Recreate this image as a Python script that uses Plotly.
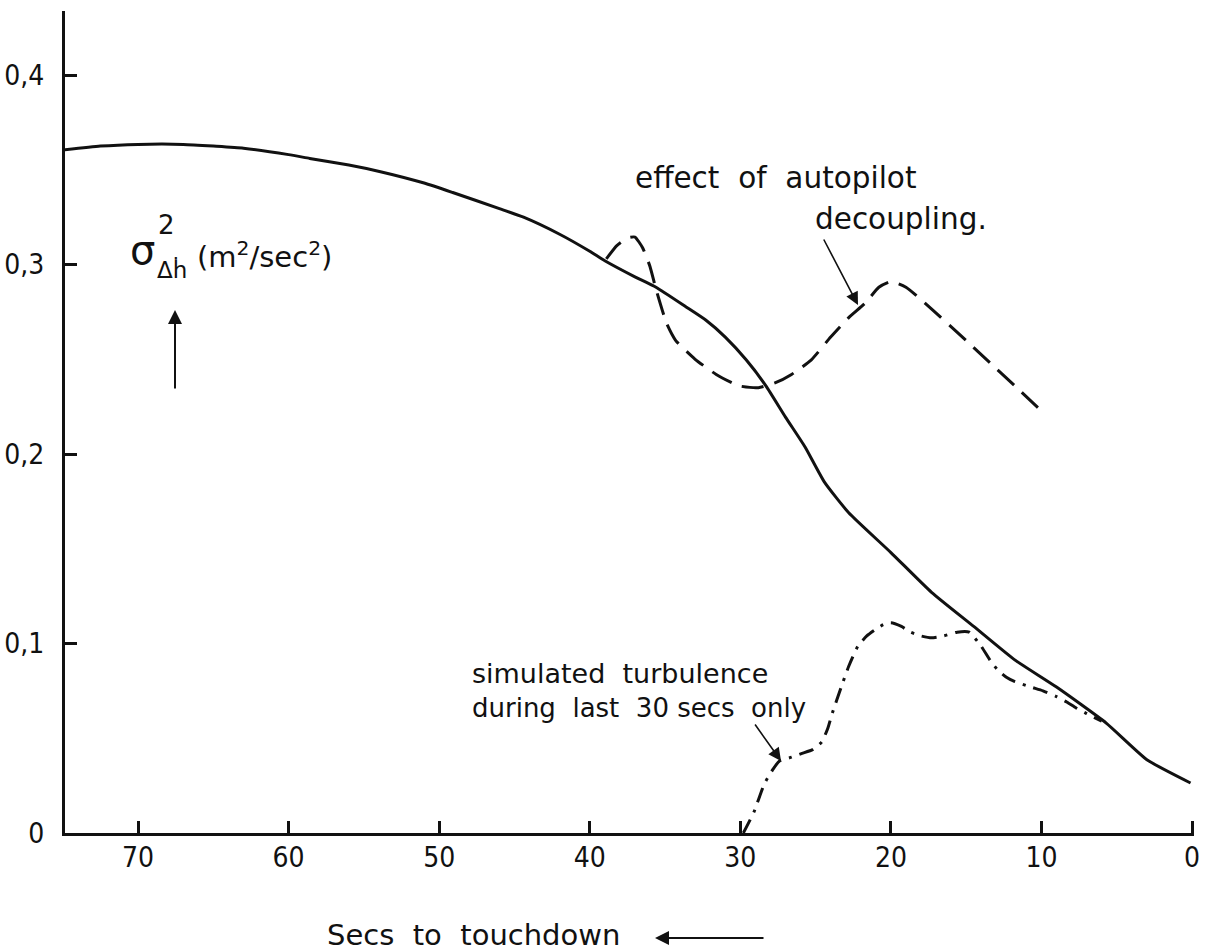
import plotly.graph_objects as go

# Secs to touchdown (x) and vertical-rate variance (y) for the three curves
base_secs = [75, 72.5, 70, 67, 65, 63, 60, 58.6, 56, 53.9, 51, 49.1, 46, 44.4, 42, 40,
             39, 37, 35.6, 33.6, 32.3, 31.0, 29.6, 28.3, 27.0, 25.7, 24.4, 22.8, 20.0,
             17.3, 14.5, 11.8, 9.0, 5.7, 3.0, 0.1]
base_var = [0.3604, 0.3625, 0.3634, 0.3634, 0.3625, 0.3614, 0.3580, 0.3560, 0.3525,
            0.3490, 0.3430, 0.3380, 0.3295, 0.3250, 0.3160, 0.3070, 0.3020, 0.2935,
            0.2880, 0.2776, 0.2707, 0.2617, 0.2496, 0.2360, 0.2195, 0.2037, 0.1850,
            0.1690, 0.1480, 0.1270, 0.1090, 0.0915, 0.0770, 0.0580, 0.0387, 0.0264]

decoupled_secs = [38.9, 38.2, 37.5, 37.0, 36.5, 36.0, 35.6, 34.9, 34.3, 33.0, 31.6, 30.1,
                  28.8, 27.7, 26.6, 25.3, 24.0, 22.8, 21.7, 20.8, 20.0, 19.0, 9.9]
decoupled_var = [0.3030, 0.3100, 0.3140, 0.3145, 0.3090, 0.2990, 0.2870, 0.2690, 0.2600,
                 0.2500, 0.2420, 0.2360, 0.2350, 0.2375, 0.2420, 0.2496, 0.2617, 0.2720,
                 0.2797, 0.2880, 0.2910, 0.2880, 0.2220]

turb_secs = [29.8, 29.1, 28.4, 27.8, 27.4, 26.6, 25.9, 25.2, 24.6, 24.2, 23.9, 23.3, 22.8,
             22.2, 21.6, 21.1, 20.5, 20.0, 19.3, 18.7, 18.0, 17.3, 16.5, 15.6, 14.8, 14.0,
             13.4, 12.9, 12.3, 11.8, 10.7, 9.9, 9.0, 8.3, 7.7, 7.0, 6.0]
turb_var = [0.0, 0.011, 0.026, 0.034, 0.038, 0.040, 0.042, 0.044, 0.048, 0.055, 0.063,
            0.077, 0.088, 0.0985, 0.104, 0.107, 0.110, 0.111, 0.109, 0.106, 0.104, 0.103,
            0.104, 0.106, 0.106, 0.0985, 0.091, 0.086, 0.082, 0.080, 0.077, 0.075, 0.072,
            0.069, 0.066, 0.063, 0.059]

x_ticks = [70, 60, 50, 40, 30, 20, 10, 0]
x_tick_text = ["70", "60", "50", "40", "30", "20", "10", "0"]
y_ticks = [0, 0.1, 0.2, 0.3, 0.4]
y_tick_text = ["0", "0,1", "0,2", "0,3", "0,4"]

W, H = 1212, 952
ML, MR, MT, MB = 65, 18, 11, 119
PW, PH = W - ML - MR, H - MT - MB


def px(x):
    return (x - ML) / PW


def py(y):
    return (H - MB - y) / PH


INK = "#111111"
TICK_FONT = dict(family="DejaVu Sans Condensed, Liberation Sans Narrow, DejaVu Sans",
                 size=28, color=INK)
TEXT_FONT = "DejaVu Sans, Liberation Sans, sans-serif"

fig = go.Figure()
fig.add_trace(go.Scatter(x=base_secs, y=base_var, mode="lines",
                         line=dict(color=INK, width=3, shape="spline", smoothing=0.5)))
fig.add_trace(go.Scatter(x=decoupled_secs, y=decoupled_var, mode="lines",
                         line=dict(color=INK, width=3, dash="22px,11px",
                                   shape="spline", smoothing=0.5)))
fig.add_trace(go.Scatter(x=turb_secs, y=turb_var, mode="lines",
                         line=dict(color=INK, width=3, dash="15px,8px,3px,8px",
                                   shape="spline", smoothing=0.5)))

annotations = []


def label(text, x, y, size, xanchor="left", yanchor="middle"):
    annotations.append(dict(text=text, x=px(x), y=py(y), xref="paper", yref="paper",
                            showarrow=False, xanchor=xanchor, yanchor=yanchor,
                            font=dict(family=TEXT_FONT, size=size, color=INK)))


def arrow(x_tail, y_tail, x_tip, y_tip, width=1.6, size=1.6, head=2):
    annotations.append(dict(text="", x=px(x_tip), y=py(y_tip), xref="paper", yref="paper",
                            ax=x_tail - x_tip, ay=y_tail - y_tip, axref="pixel",
                            ayref="pixel", showarrow=True, arrowhead=head,
                            arrowsize=size, arrowwidth=width, arrowcolor=INK))


label("effect\u00a0 of\u00a0 autopilot", 633, 178, 29.5)
label("decoupling.", 813, 219, 29.5)
label("simulated\u00a0 turbulence", 470, 673, 27)
label("during\u00a0 last\u00a0 30\u00a0secs\u00a0 only", 470, 708, 26)
label("Secs\u00a0 to\u00a0 touchdown", 325, 935, 29)

# y quantity label: sigma squared of delta h-dot
label("\u03c3", 142, 250, 40, xanchor="center")
label("2", 166, 225, 26, xanchor="center")
label("\u0394\u1e23", 172, 270, 23, xanchor="center")
label("(m<sup>2</sup>/sec<sup>2</sup>)", 195, 255, 29)

arrow(823, 238, 858, 305)
arrow(754, 723, 781, 761)
arrow(175, 390, 175, 310, width=2, size=1.4)
arrow(765, 938, 655, 938, width=2, size=1.4)

fig.update_layout(
    width=W, height=H,
    margin=dict(l=ML, r=MR, t=MT, b=MB, pad=0),
    paper_bgcolor="white", plot_bgcolor="white",
    showlegend=False,
    annotations=annotations,
    xaxis=dict(range=[74.85, -0.13], tickvals=x_ticks, ticktext=x_tick_text,
               ticks="inside", ticklen=12, tickwidth=2.5, tickcolor=INK,
               showline=True, linewidth=3, linecolor=INK, showgrid=False,
               zeroline=False, tickfont=TICK_FONT, ticklabelstandoff=-3,
               automargin=False),
    yaxis=dict(range=[0, 0.4338], tickvals=y_ticks, ticktext=y_tick_text,
               ticks="inside", ticklen=12, tickwidth=2.5, tickcolor=INK,
               showline=True, linewidth=3, linecolor=INK, showgrid=False,
               zeroline=False, tickfont=TICK_FONT, ticklabelstandoff=12,
               automargin=False),
)

fig.write_html("out.html")
